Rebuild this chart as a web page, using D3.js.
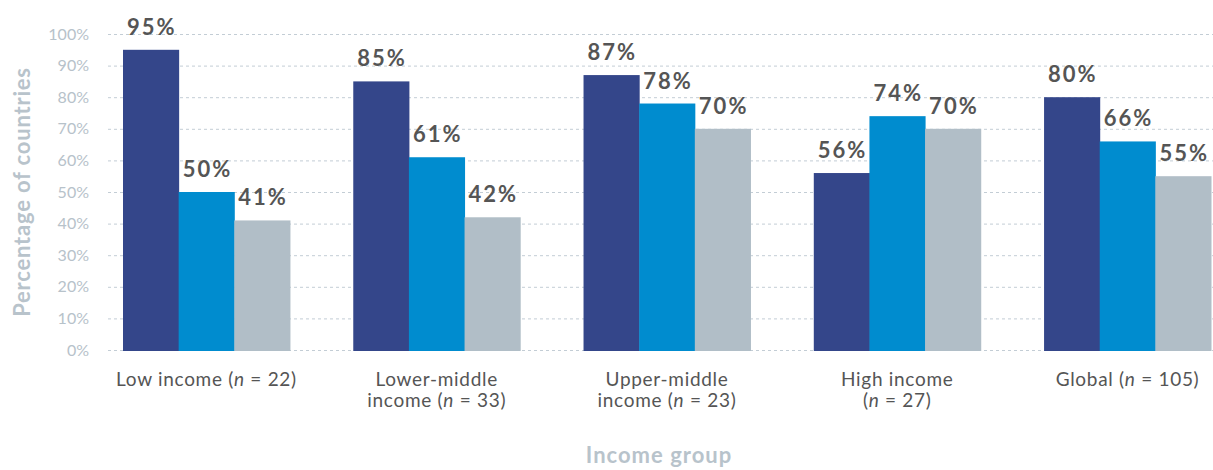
<!DOCTYPE html>
<html>
<head>
<meta charset="utf-8">
<script src="https://cdn.jsdelivr.net/npm/d3@7"></script>
<style>
  html, body { margin: 0; padding: 0; background: #fff; }
  svg { display: block; font-family: Lato, "Open Sans", sans-serif; }
</style>
</head>
<body>
<svg id="chart" width="1213" height="470"></svg>
<script>
// ---- data ----
const categories = ["Low income", "Lower-middle", "Upper-middle", "High income", "Global"];
const labelLine1 = ["Low income (n = 22)", "Lower-middle", "Upper-middle", "High income", "Global (n = 105)"];
const labelLine2N = [null, "33", "23", "27", null];
const labelLine2Prefix = [null, "income (", "income (", "(", null];
const seriesNames = ["Series A", "Series B", "Series C"];
const seriesA = [95, 85, 87, 56, 80];
const seriesB = [50, 61, 78, 74, 66];
const seriesC = [41, 42, 70, 70, 55];
const yTicks = [0, 10, 20, 30, 40, 50, 60, 70, 80, 90, 100];
const colors = ["#34468a", "#008ccf", "#b1bec7"];

const svg = d3.select("#chart");

const y = d3.scaleLinear().domain([0, 100]).range([350, 34]);
const x0 = d3.scaleBand().domain(categories).range([123, 1211]).paddingInner(0.275).paddingOuter(0);
const x1 = d3.scaleBand().domain(seriesNames).range([0, x0.bandwidth()]).padding(0);

const series = [seriesA, seriesB, seriesC];

// grid lines
svg.append("g").selectAll("line").data(yTicks).join("line")
  .attr("x1", 108).attr("x2", 1213)
  .attr("y1", d => y(d) + 0.5).attr("y2", d => y(d) + 0.5)
  .attr("stroke", "#c3cdd5").attr("stroke-width", 1)
  .attr("stroke-dasharray", "3,3");

// y axis tick labels
const yAxis = d3.axisLeft(y).tickValues(yTicks).tickFormat(d => d + "%").tickSize(0).tickPadding(0);
const yg = svg.append("g").attr("transform", "translate(89,0)").call(yAxis);
yg.select(".domain").remove();
yg.selectAll("text").attr("font-size", 16).attr("fill", "#b7c2ca")
  .attr("font-family", "Lato, sans-serif");

// bars
const groups = svg.append("g").selectAll("g").data(categories).join("g")
  .attr("transform", d => `translate(${x0(d)},0)`);

groups.each(function(cat, ci) {
  const g = d3.select(this);
  const vals = series.map((s, si) => ({ name: seriesNames[si], v: s[ci], c: colors[si] }));
  g.selectAll("rect").data(vals).join("rect")
    .attr("x", d => x1(d.name))
    .attr("y", d => y(d.v))
    .attr("width", x1.bandwidth() + 0.5)
    .attr("height", d => y(0) - y(d.v) + 1)
    .attr("fill", d => d.c);
  g.selectAll("text.val").data(vals).join("text")
    .attr("class", "val")
    .attr("x", d => x1(d.name) + x1.bandwidth() / 2 + 1)
    .attr("y", d => y(d.v) - 15)
    .attr("text-anchor", "middle")
    .attr("font-size", 22).attr("font-weight", 700)
    .attr("letter-spacing", 2)
    .attr("fill", "#555555")
    .text(d => d.v + "%");
});

// category labels
const catG = svg.append("g").attr("font-size", 19).attr("fill", "#555555").attr("letter-spacing", 0.7);
categories.forEach((cat, i) => {
  const cx = x0(cat) + x0.bandwidth() / 2;
  if (labelLine2N[i] === null) {
    const t = catG.append("text").attr("x", cx).attr("y", 386).attr("text-anchor", "middle");
    const parts = labelLine1[i].split("n =");
    t.append("tspan").text(parts[0]);
    t.append("tspan").attr("font-style", "italic").text("n");
    t.append("tspan").text(" =" + parts[1]);
  } else {
    catG.append("text").attr("x", cx).attr("y", 386).attr("text-anchor", "middle").text(labelLine1[i]);
    const t = catG.append("text").attr("x", cx).attr("y", 407).attr("text-anchor", "middle");
    t.append("tspan").text(labelLine2Prefix[i]);
    t.append("tspan").attr("font-style", "italic").text("n");
    t.append("tspan").text(" = " + labelLine2N[i] + ")");
  }
});

// axis titles
svg.append("text")
  .attr("transform", "translate(30,192) rotate(-90)")
  .attr("text-anchor", "middle")
  .attr("font-size", 22).attr("font-weight", 700).attr("fill", "#b8c3cb")
  .attr("letter-spacing", 0.8)
  .text("Percentage of countries");

svg.append("text")
  .attr("x", 659).attr("y", 463)
  .attr("text-anchor", "middle")
  .attr("font-size", 22).attr("font-weight", 700).attr("fill", "#b8c3cb")
  .attr("letter-spacing", 1)
  .text("Income group");
</script>
</body>
</html>
